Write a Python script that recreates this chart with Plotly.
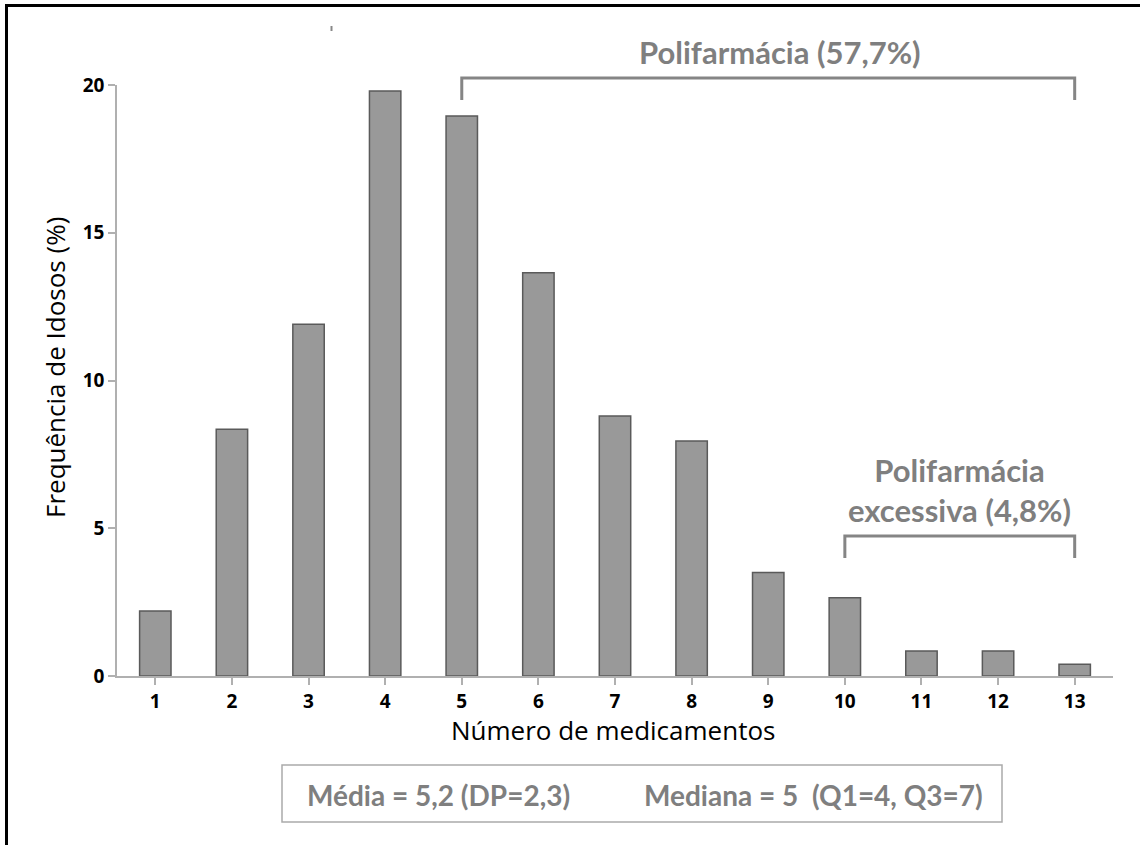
import plotly.graph_objects as go

categorias = [1, 2, 3, 4, 5, 6, 7, 8, 9, 10, 11, 12, 13]
frequencia = [2.2, 8.35, 11.9, 19.8, 18.95, 13.65, 8.8, 7.95, 3.5, 2.65, 0.85, 0.85, 0.4]
y_ticks = [0, 5, 10, 15, 20]

titulo_x = "Número de medicamentos"
titulo_y = "Frequência de Idosos (%)"
txt_poli = "Polifarmácia (57,7%)"
txt_exc = "Polifarmácia<br>excessiva (4,8%)"
txt_media = "Média = 5,2 (DP=2,3)"
txt_mediana = "Mediana = 5 &nbsp;(Q1=4, Q3=7)"
poli_ini, poli_fim = 5, 13
exc_ini, exc_fim = 10, 13

W, H = 1140, 845
L, R, T, B = 117, 27, 85, 169
pw, ph = W - L - R, H - T - B

def py(p):
    return (H - B - p) / ph

def px(p):
    return (p - L) / pw

fig = go.Figure()
fig.add_trace(go.Bar(
    x=categorias, y=frequencia, width=0.41,
    marker=dict(color="#999999", line=dict(color="#5a5a5a", width=1.5)),
))

grey = "#858585"
bfont = dict(family="Lato", size=31, color="#7f7f7f")
sfont = dict(family="Lato", size=28, color="#7f7f7f")
shapes = []
for (a, b, top, leg) in [(poli_ini, poli_fim, 78, 100), (exc_ini, exc_fim, 536, 558)]:
    shapes.append(dict(type="path", xref="x", yref="paper",
                       path=f"M {a},{py(leg)} L {a},{py(top)} L {b},{py(top)} L {b},{py(leg)}",
                       line=dict(color=grey, width=3)))
shapes.append(dict(type="rect", xref="paper", yref="paper",
                   x0=px(282), x1=px(1002), y0=py(822), y1=py(765),
                   line=dict(color="#aaaaaa", width=1.5), fillcolor="white"))
shapes.append(dict(type="line", xref="paper", yref="paper",
                   x0=px(5), x1=px(1145), y0=py(5.5), y1=py(5.5),
                   line=dict(color="black", width=3)))
shapes.append(dict(type="line", xref="paper", yref="paper",
                   x0=px(6.5), x1=px(6.5), y0=py(4), y1=py(850),
                   line=dict(color="black", width=3)))
shapes.append(dict(type="line", xref="paper", yref="paper",
                   x0=px(331.5), x1=px(331.5), y0=py(26), y1=py(31),
                   line=dict(color="#888888", width=2)))

annotations = [
    dict(text=f"<b>{txt_poli}</b>", x=(poli_ini + poli_fim) / 2 + 0.15, xref="x", y=py(52), yref="paper",
         showarrow=False, font=bfont, xanchor="center", yanchor="middle"),
    dict(text=f"<b>{txt_exc}</b>", x=(exc_ini + exc_fim) / 2, xref="x", y=py(490), yref="paper",
         showarrow=False, font=bfont, xanchor="center", yanchor="middle"),
    dict(text=f"<b>{txt_media}</b>", x=px(305), xref="paper", y=py(795), yref="paper",
         showarrow=False, font=sfont, xanchor="left", yanchor="middle"),
    dict(text=f"<b>{txt_mediana}</b>", x=px(642), xref="paper", y=py(795), yref="paper",
         showarrow=False, font=sfont, xanchor="left", yanchor="middle"),
    dict(text=titulo_x, x=px(613), xref="paper", y=py(730), yref="paper",
         showarrow=False, font=dict(family="Open Sans", size=26, color="black"), xanchor="center", yanchor="middle"),
    dict(text=titulo_y, x=px(55), xref="paper", y=py(368), yref="paper", textangle=-90,
         showarrow=False, font=dict(family="Open Sans", size=26, color="black"), xanchor="center", yanchor="middle"),
]

fig.update_layout(
    width=W, height=H,
    margin=dict(l=L, r=R, t=T, b=B, pad=0),
    paper_bgcolor="white", plot_bgcolor="white",
    showlegend=False,
    shapes=shapes, annotations=annotations,
    font=dict(family="Open Sans"),
)
axis_common = dict(showline=True, linecolor="#b0b0b0", linewidth=1.5,
                   ticks="outside", ticklen=7, tickcolor="#b0b0b0", tickwidth=1.5,
                   showgrid=False, zeroline=False,
                   tickfont=dict(family="Open Sans", size=19, color="black"))
fig.update_xaxes(range=[0.5, 13.5], tickmode="array", tickvals=categorias,
                 ticktext=[f"<b>{c}</b>" for c in categorias], **axis_common)
fig.update_yaxes(range=[0, 20], tickmode="array", tickvals=y_ticks,
                 ticktext=[f"<b>{v}</b>" for v in y_ticks], **axis_common)

fig.write_html("out.html", config={"displayModeBar": False},
               post_script="document.body.style.margin='0';document.body.style.overflow='hidden';")
